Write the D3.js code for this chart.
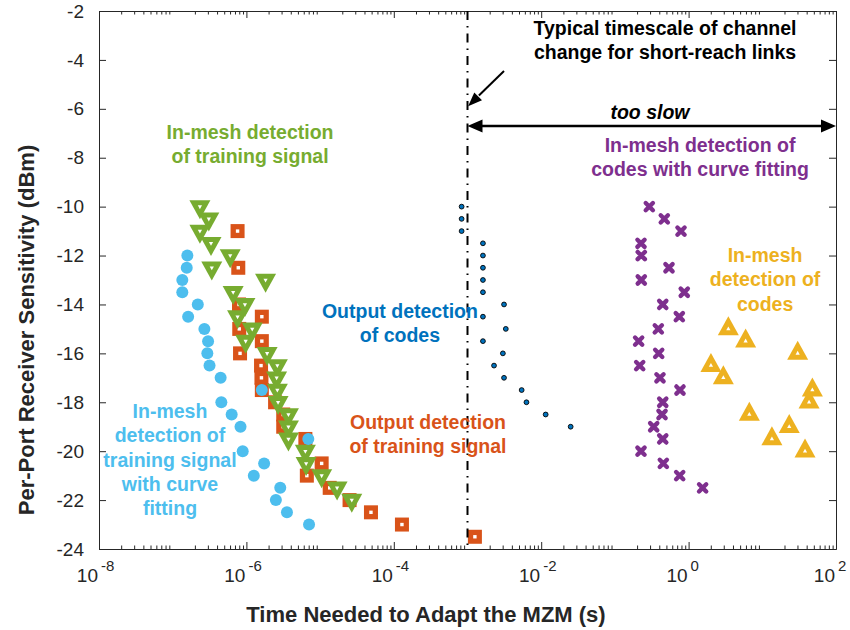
<!DOCTYPE html>
<meta charset="utf-8">
<style>
body {margin: 0; background: #fff;}
text {font-family: "Liberation Sans", Arial, sans-serif;}
.axis text {font-size: 19px; fill: #262626;}
.axis path, .axis line {stroke: #262626; stroke-width: 1;}
.label {font-size: 22px; font-weight: bold; fill: #262626;}
.note {font-size: 19.5px; font-weight: bold;}
</style>
<html>
<body>
<script src="https://d3js.org/d3.v7.min.js"></script>
<script>
var width = 850,
    height = 630;
var margin = {top: 11, right: 14, bottom: 81, left: 99};
var w = width - margin.left - margin.right,
    h = height - margin.top - margin.bottom;

// in-mesh detection of training signal with curve fitting (cyan dots)
var fitTrainDbm  = [-12, -12.5, -13, -13.5, -14, -14.5, -15, -15.5, -16, -16.5, -17, -17.5,
                    -18, -18.5, -19, -19.5, -20, -20.5, -21, -21.5, -22, -22.5, -23];
var fitTrainTime = [1.58e-7, 1.55e-7, 1.35e-7, 1.35e-7, 2.19e-7, 1.62e-7, 2.69e-7, 3.02e-7,
                    2.95e-7, 3.16e-7, 4.47e-7, 1.62e-6, 4.57e-7, 6.31e-7, 8.32e-7, 6.92e-6,
                    8.91e-7, 1.74e-6, 1.26e-6, 2.88e-6, 2.51e-6, 3.55e-6, 7.08e-6];

// output detection of training signal (orange squares)
var outTrainDbm  = [-11, -12.5, -14, -14.5, -15, -15.5, -16, -16.5, -17, -17.5, -18, -18.5,
                    -19, -19.5, -20.5, -21, -21.5, -22, -22.5, -23, -23.5];
var outTrainTime = [7.59e-7, 7.76e-7, 7.94e-7, 1.62e-6, 8.0e-7, 1.62e-6, 8.2e-7, 1.58e-6,
                    1.6e-6, 1.62e-6, 2.45e-6, 3.16e-6, 3.16e-6, 6.31e-6, 1.05e-5, 6.61e-6,
                    1.35e-5, 2.51e-5, 4.9e-5, 1.29e-4, 1.26e-3];

// in-mesh detection of training signal (green triangles)
var meshTrainDbm  = [-10, -10.5, -11, -11.5, -12, -12.5, -13, -13.5, -14, -14.5, -15, -15.5,
                     -16, -16.5, -17, -17.5, -18, -18.5, -19, -19.5, -20, -20.5, -21, -21.5, -22];
var meshTrainTime = [2.34e-7, 3.09e-7, 2.34e-7, 3.31e-7, 6.03e-7, 3.39e-7, 1.82e-6, 6.61e-7,
                     9.55e-7, 7.59e-7, 1.2e-6, 9.77e-7, 1.91e-6, 2.63e-6, 2.57e-6, 2.63e-6,
                     2.69e-6, 3.72e-6, 3.72e-6, 3.72e-6, 6.31e-6, 6.46e-6, 1.05e-5, 1.7e-5, 2.69e-5];

// output detection of codes (small blue dots)
var outCodeDbm  = [-10, -10.5, -11, -11.5, -12, -12.5, -13, -13.5, -14, -14.5, -15, -15.5,
                   -16, -16.5, -17, -17.5, -18, -18.5, -19];
var outCodeTime = [8.32e-4, 8.32e-4, 8.32e-4, 1.62e-3, 1.62e-3, 1.62e-3, 1.62e-3, 1.62e-3,
                   3.13e-3, 1.62e-3, 3.31e-3, 1.62e-3, 3.02e-3, 2.29e-3, 3.13e-3, 5.43e-3,
                   6.31e-3, 1.15e-2, 2.51e-2];

// in-mesh detection of codes with curve fitting (purple crosses)
var fitCodeDbm  = [-10, -10.5, -11, -11.5, -12, -12.5, -13, -13.5, -14, -14.5, -15, -15.5,
                   -16, -16.5, -17, -17.5, -18, -18.5, -19, -19.5, -20, -20.5, -21, -21.5];
var fitCodeTime = [0.293, 0.468, 0.789, 0.226, 0.228, 0.542, 0.228, 0.873, 0.446, 0.748,
                   0.388, 0.210, 0.393, 0.217, 0.409, 0.764, 0.446, 0.436, 0.336, 0.446,
                   0.226, 0.454, 0.757, 1.55];

// in-mesh detection of codes (yellow triangles)
var meshCodeDbm  = [-15, -15.5, -16, -16.5, -17, -17.5, -18, -18.5, -19, -19.5, -20];
var meshCodeTime = [3.46, 5.94, 30.2, 2.01, 2.96, 47.8, 43.1, 6.67, 23.2, 13.5, 38.0];

var yTicks = [-24, -22, -20, -18, -16, -14, -12, -10, -8, -6, -4, -2];
var xMajor = [1e-8, 1e-6, 1e-4, 1e-2, 1, 1e2];

var channelTime = 1e-3;   // typical timescale of channel change

var svg = d3.select("body").append("svg")
    .attr("width", width)
    .attr("height", height);

var g = svg.append("g")
    .attr("transform", "translate(" + margin.left + "," + margin.top + ")");

var x = d3.scaleLog().domain([1e-8, 1e2]).range([0, w]);
var y = d3.scaleLinear().domain([-24, -2]).range([h, 0]);

var xMinor = [];
for (var k = -8; k < 2; k++) {
  for (var m = 2; m < 10; m++) xMinor.push(m * Math.pow(10, k));
}

// axes, ticks pointing inside like matlab
g.append("g").attr("class", "axis").attr("transform", "translate(0," + h + ")")
    .call(d3.axisBottom(x).tickValues(xMinor).tickSize(-3.5).tickSizeOuter(0).tickFormat(""));
g.append("g").attr("class", "axis").attr("transform", "translate(0," + h + ")")
    .call(d3.axisBottom(x).tickValues(xMajor).tickSize(-7).tickSizeOuter(0).tickFormat(""));
g.append("g").attr("class", "axis")
    .call(d3.axisTop(x).tickValues(xMinor).tickSize(-3.5).tickSizeOuter(0).tickFormat(""));
g.append("g").attr("class", "axis")
    .call(d3.axisTop(x).tickValues(xMajor).tickSize(-7).tickSizeOuter(0).tickFormat(""));
g.append("g").attr("class", "axis")
    .call(d3.axisLeft(y).tickValues(yTicks).tickSize(-7).tickPadding(15).tickSizeOuter(0)
      .tickFormat(function(d) { return String(d); }));
g.append("g").attr("class", "axis").attr("transform", "translate(" + w + ",0)")
    .call(d3.axisRight(y).tickValues(yTicks).tickSize(-7).tickSizeOuter(0).tickFormat(""));

// x tick labels as 10 with superscript
var xl = g.append("g").attr("class", "axis");
xl.selectAll("text.base").data(xMajor).join("text")
    .attr("class", "base")
    .attr("x", function(d) { return x(d) - 1; })
    .attr("y", h + 33)
    .attr("text-anchor", "end")
    .text("10");
xl.selectAll("text.exp").data(xMajor).join("text")
    .attr("class", "exp")
    .attr("x", function(d) { return x(d) + 2; })
    .attr("y", h + 22)
    .style("font-size", "15px")
    .text(function(d) { return Math.round(Math.log10(d)); });

g.append("text").attr("class", "label")
    .attr("x", 327).attr("y", h + 73)
    .attr("text-anchor", "middle")
    .text("Time Needed to Adapt the MZM (s)");
g.append("text").attr("class", "label")
    .attr("transform", "translate(-65,319) rotate(-90)")
    .attr("text-anchor", "middle")
    .text("Per-Port Receiver Sensitivity (dBm)");

// marker shapes
function triDown(s) {
  return "M" + (-10.5 * s) + "," + (-6.33 * s) + "L" + (10.5 * s) + "," + (-6.33 * s) + "L0," + (12.67 * s) + "Z";
}
function triUp(s) {
  return "M0," + (-12.67 * s) + "L" + (10.5 * s) + "," + (6.33 * s) + "L" + (-10.5 * s) + "," + (6.33 * s) + "Z";
}
function pos(d) { return "translate(" + x(d[0]) + "," + y(d[1]) + ")"; }

// orange squares
var sq = g.append("g").selectAll("g").data(d3.zip(outTrainTime, outTrainDbm)).join("g")
    .attr("transform", pos);
sq.append("rect").attr("x", -7).attr("y", -7).attr("width", 14).attr("height", 14).attr("fill", "#D95319");
sq.append("rect").attr("x", -1.7).attr("y", -1.7).attr("width", 3.4).attr("height", 3.4).attr("fill", "#fff");

// green triangles
var gt = g.append("g").selectAll("g").data(d3.zip(meshTrainTime, meshTrainDbm)).join("g")
    .attr("transform", pos);
gt.append("path").attr("d", triDown(1)).attr("fill", "#77AC30");
gt.append("path").attr("d", triDown(0.2)).attr("fill", "#fff");

// cyan dots
g.append("g").selectAll("circle").data(d3.zip(fitTrainTime, fitTrainDbm)).join("circle")
    .attr("cx", function(d) { return x(d[0]); })
    .attr("cy", function(d) { return y(d[1]); })
    .attr("r", 6)
    .attr("fill", "#4DBEEE");

// blue dots
g.append("g").selectAll("circle").data(d3.zip(outCodeTime, outCodeDbm)).join("circle")
    .attr("cx", function(d) { return x(d[0]); })
    .attr("cy", function(d) { return y(d[1]); })
    .attr("r", 2.4)
    .attr("fill", "#0072BD")
    .attr("stroke", "#000")
    .attr("stroke-width", 0.9);

// purple crosses
g.append("g").selectAll("path").data(d3.zip(fitCodeTime, fitCodeDbm)).join("path")
    .attr("transform", pos)
    .attr("d", "M-3.6,-3.6L3.6,3.6M-3.6,3.6L3.6,-3.6")
    .attr("stroke", "#7E2F8E")
    .attr("stroke-width", 4.4)
    .attr("stroke-linecap", "round");

// yellow triangles
var yt = g.append("g").selectAll("g").data(d3.zip(meshCodeTime, meshCodeDbm)).join("g")
    .attr("transform", pos);
yt.append("path").attr("d", triUp(1)).attr("fill", "#EDB120");
yt.append("path").attr("d", triUp(0.2)).attr("fill", "#fff");

// channel timescale line
g.append("line")
    .attr("x1", x(channelTime)).attr("x2", x(channelTime))
    .attr("y1", y(-2)).attr("y2", y(-24))
    .attr("stroke", "#000")
    .attr("stroke-width", 2)
    .attr("stroke-dasharray", "9,6,1.5,6");

function arrowHead(x0, y0, x1, y1, len, half) {
  // tip at (x1,y1), coming from (x0,y0)
  var a = Math.atan2(y1 - y0, x1 - x0);
  var bx = x1 - len * Math.cos(a), by = y1 - len * Math.sin(a);
  var px = -Math.sin(a) * half, py = Math.cos(a) * half;
  return "M" + x1 + "," + y1 + "L" + (bx + px) + "," + (by + py) + "L" + (bx - px) + "," + (by - py) + "Z";
}

// too slow double arrow
var ay = y(-6.7), ax0 = x(channelTime), ax1 = x(1e2);
g.append("line").attr("x1", ax0 + 8).attr("x2", ax1 - 8).attr("y1", ay).attr("y2", ay)
    .attr("stroke", "#000").attr("stroke-width", 2.5);
g.append("path").attr("d", arrowHead(ax1, ay, ax0, ay, 15, 6.5)).attr("fill", "#000");
g.append("path").attr("d", arrowHead(ax0, ay, ax1, ay, 15, 6.5)).attr("fill", "#000");

// pointer arrow to the line
var px0 = x(3.13e-3), py0 = y(-4.45), px1 = x(1.02e-3), py1 = y(-5.89);
g.append("line").attr("x1", px0).attr("y1", py0)
    .attr("x2", px1 + (px0 - px1) * 0.3).attr("y2", py1 + (py0 - py1) * 0.3)
    .attr("stroke", "#000").attr("stroke-width", 2);
g.append("path").attr("d", arrowHead(px0, py0, px1, py1, 14, 5.5)).attr("fill", "#000");

// text notes: [time, dBm] of first line centre
var notes = [
  {at: [0.479, -2.70], color: "#000", lines: ["Typical timescale of channel", "change for short-reach links"]},
  {at: [0.299, -6.13], color: "#000", lines: ["too slow"], italic: true},
  {at: [1.43, -7.48], color: "#7E2F8E", lines: ["In-mesh detection of", "codes with curve fitting"]},
  {at: [1.12e-6, -6.95], color: "#77AC30", lines: ["In-mesh detection", "of training signal"]},
  {at: [1.21e-4, -14.27], color: "#0072BD", lines: ["Output detection", "of codes"]},
  {at: [2.91e-4, -18.81], color: "#D95319", lines: ["Output detection", "of training signal"]},
  {at: [9.18e-8, -18.36], color: "#4DBEEE", lines: ["In-mesh", "detection of", "training signal", "with curve", "fitting"]},
  {at: [10.9, -11.98], color: "#EDB120", lines: ["In-mesh", "detection of", "codes"]}
];

var nt = g.append("g").selectAll("text").data(notes).join("text")
    .attr("class", "note")
    .attr("text-anchor", "middle")
    .attr("fill", function(d) { return d.color; })
    .style("font-style", function(d) { return d.italic ? "italic" : "normal"; })
    .attr("transform", function(d) { return "translate(" + x(d.at[0]) + "," + y(d.at[1]) + ")"; });
nt.selectAll("tspan").data(function(d) { return d.lines; }).join("tspan")
    .attr("x", 0)
    .attr("y", function(d, i) { return i * 24.4; })
    .attr("dy", "0.35em")
    .text(function(d) { return d; });
</script>
</body>
</html>
